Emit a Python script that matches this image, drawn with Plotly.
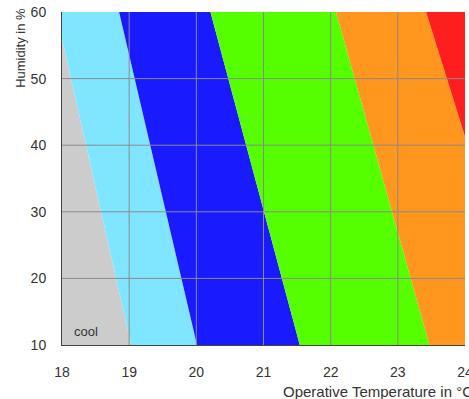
import plotly.graph_objects as go

# Boundary lines between comfort classes: x (°C) at humidity 10 % and 60 %
humidity_ends = [10, 60]
bound_x_at_10 = [19.03, 20.01, 21.54, 23.47, 24.97]
bound_x_at_60 = [17.91, 18.85, 20.21, 22.08, 23.42]
region_colors = ["#cccccc", "#80e5ff", "#1a1aff", "#55ff00", "#ff961e", "#ff1e1e"]
x_ticks = [18, 19, 20, 21, 22, 23, 24]
y_ticks = [10, 20, 30, 40, 50, 60]
x_range = [18, 24]
y_range = [10, 60]

left_far = [16.0, 16.0]
right_far = [27.0, 27.0]
bounds = [left_far] + [[a, b] for a, b in zip(bound_x_at_10, bound_x_at_60)] + [right_far]

fig = go.Figure()
for i, col in enumerate(region_colors):
    lo = bounds[i]
    hi = bounds[i + 1]
    xs = [lo[0], hi[0], hi[1], lo[1], lo[0]]
    ys = [humidity_ends[0], humidity_ends[0], humidity_ends[1], humidity_ends[1], humidity_ends[0]]
    fig.add_trace(go.Scatter(x=xs, y=ys, fill="toself", fillcolor=col, mode="lines",
                             line=dict(width=0, color=col), hoverinfo="skip", showlegend=False))

shapes = []
grid_col = "#8a8a8a"
for xv in x_ticks[1:-1]:
    shapes.append(dict(type="line", xref="x", yref="paper", x0=xv, x1=xv, y0=0, y1=1,
                       line=dict(color=grid_col, width=1), layer="above"))
for yv in y_ticks[1:-1]:
    shapes.append(dict(type="line", xref="paper", yref="y", x0=0, x1=1, y0=yv, y1=yv,
                       line=dict(color=grid_col, width=1), layer="above"))

font_fam = "Liberation Sans, Arial, sans-serif"
fig.update_layout(
    width=469, height=399,
    margin=dict(l=62, r=4, t=12, b=54, autoexpand=False),
    paper_bgcolor="white", plot_bgcolor="white",
    font=dict(family=font_fam, size=14, color="#333333"),
    shapes=shapes,
    xaxis=dict(range=x_range, tickvals=x_ticks, showgrid=False, zeroline=False,
               showline=True, linecolor="#444444", linewidth=1, layer="above traces",
               ticks="", ticklabelstandoff=14, ticklabeloverflow="allow", automargin=False,
               fixedrange=True),
    yaxis=dict(range=y_range, tickvals=y_ticks, showgrid=False, zeroline=False,
               showline=True, linecolor="#444444", linewidth=1, layer="above traces",
               ticks="", ticklabelstandoff=12, ticklabeloverflow="allow", automargin=False,
               fixedrange=True),
    annotations=[
        dict(text="cool", x=18.15, y=12.1, xref="x", yref="y", xanchor="left", yanchor="middle",
             showarrow=False, font=dict(size=13, color="#333333")),
        dict(text="Humidity in %", x=-0.103, y=1.02, xref="paper", yref="paper", textangle=-90,
             xanchor="center", yanchor="top", showarrow=False, font=dict(size=13, color="#333333")),
        dict(text="Operative Temperature in °C", x=0.543, y=-0.14, xref="paper", yref="paper",
             xanchor="left", yanchor="middle", showarrow=False, font=dict(size=15, color="#333333")),
    ],
)

fig.write_html("out.html", config={"displayModeBar": False},
               post_script="document.body.style.margin='0';document.body.style.overflow='hidden';")
